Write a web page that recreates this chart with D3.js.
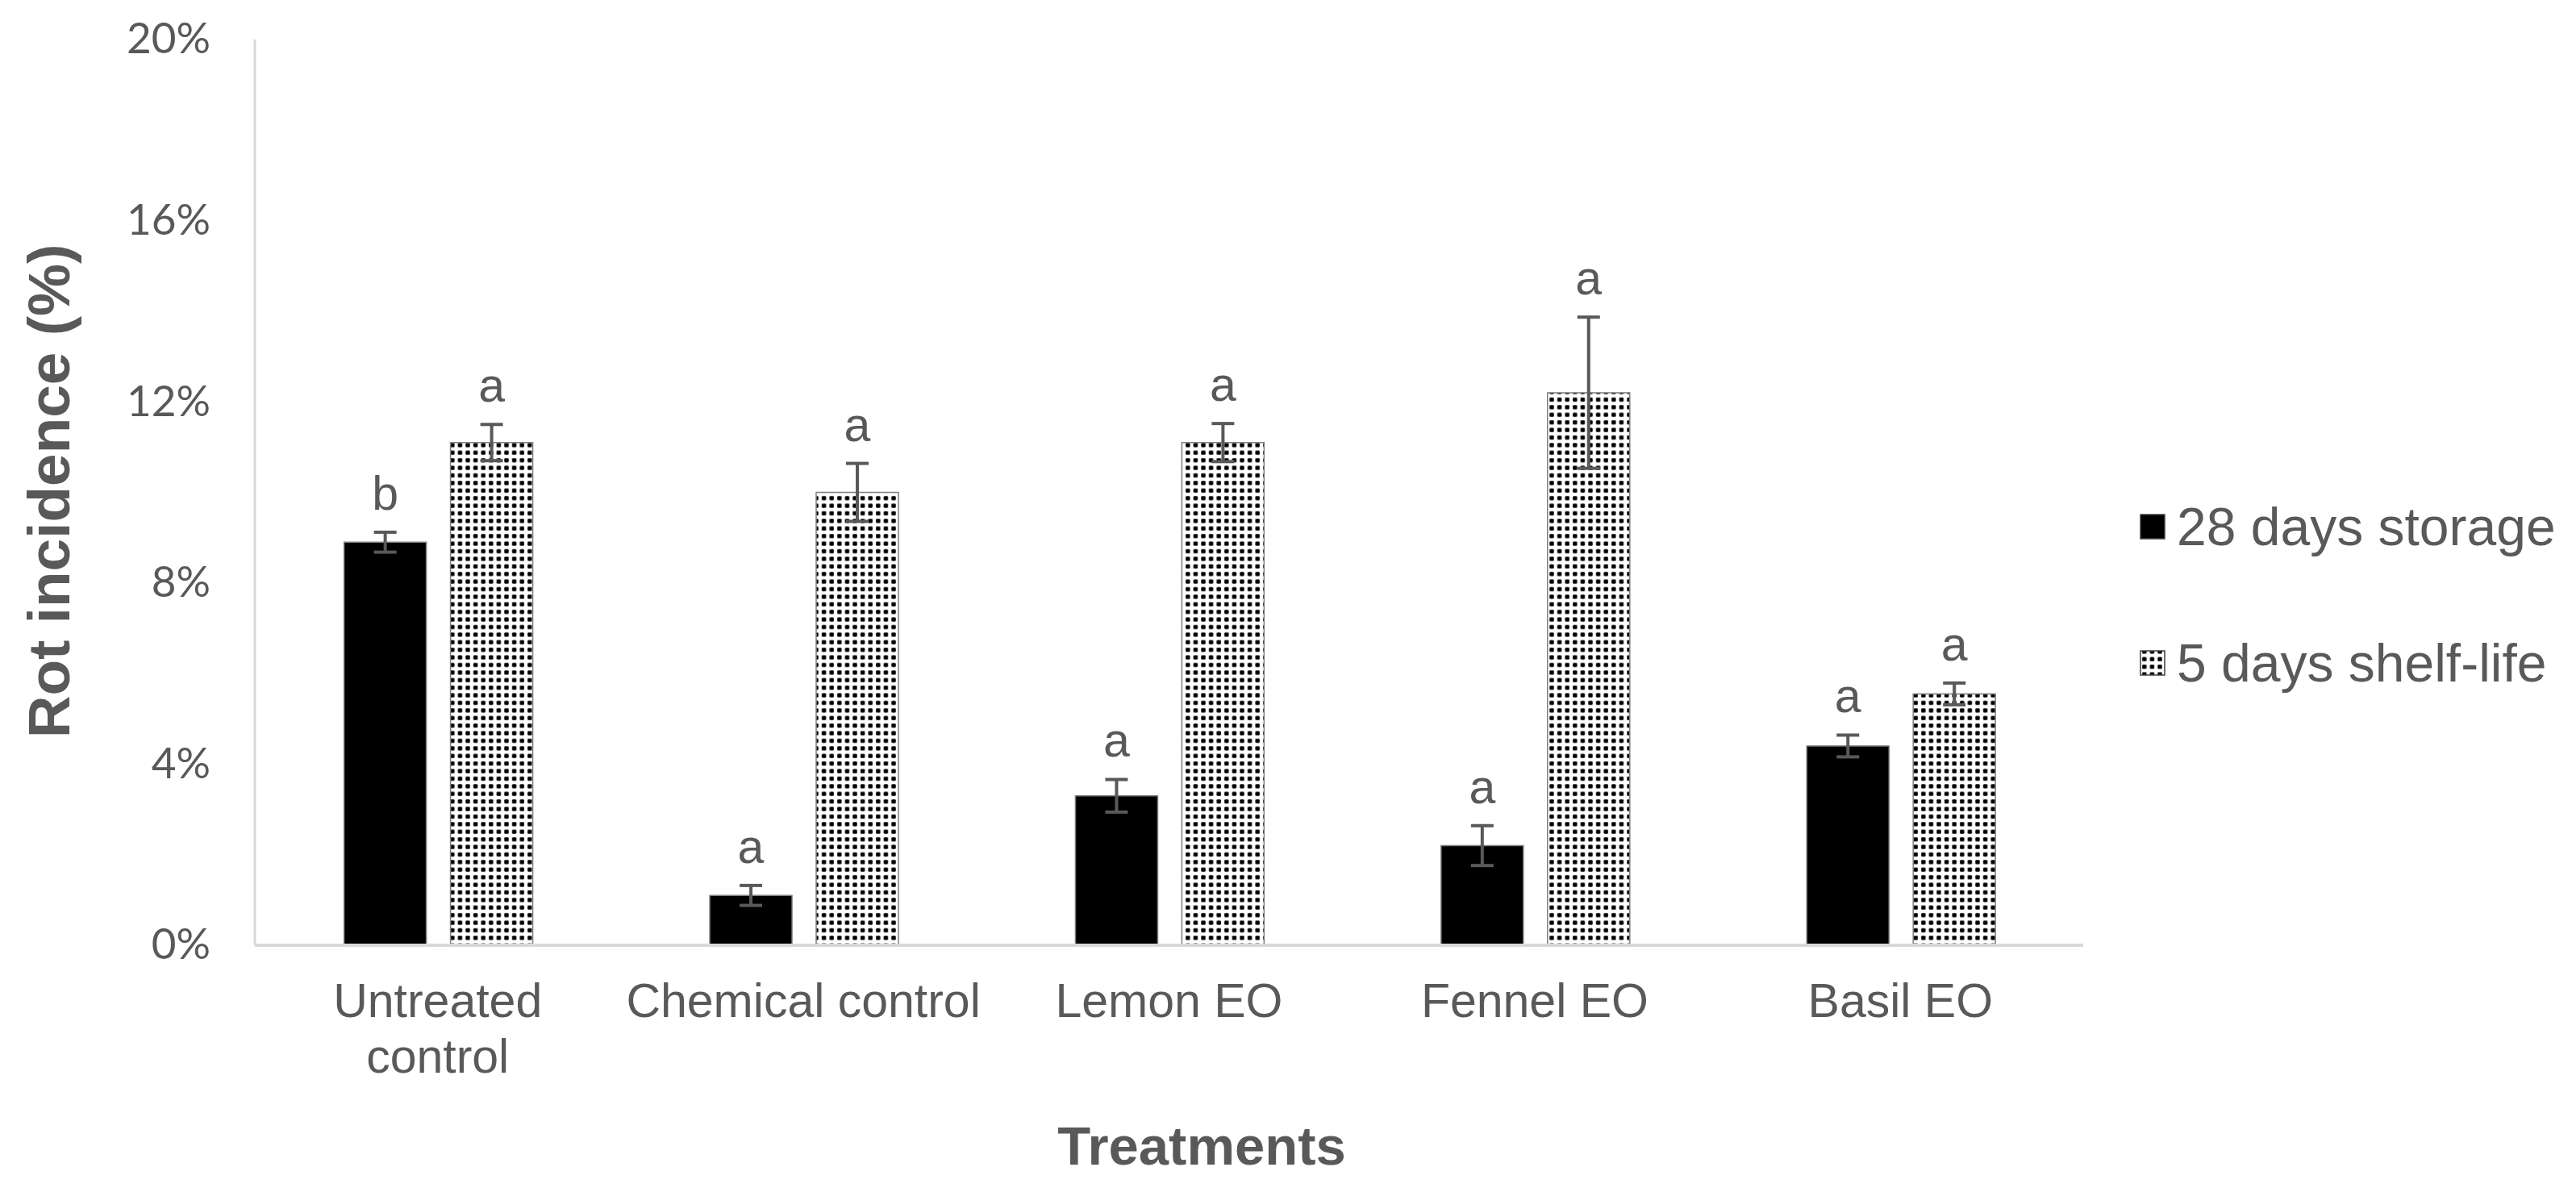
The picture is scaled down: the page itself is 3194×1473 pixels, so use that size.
<!DOCTYPE html>
<html>
<head>
<meta charset="utf-8">
<script src="https://cdn.jsdelivr.net/npm/d3@7"></script>
<style>
  html, body { margin: 0; padding: 0; background: #fff; }
  svg { display: block; }
</style>
</head>
<body>
<svg width="3194" height="1473"></svg>
<script>
// values (percent)
var categories = ["Untreated control", "Chemical control", "Lemon EO", "Fennel EO", "Basil EO"];
var categoryLabels = [["Untreated", "control"], ["Chemical control"], ["Lemon EO"], ["Fennel EO"], ["Basil EO"]];
var series = ["28 days storage", "5 days shelf-life"];
var storage = [8.9, 1.1, 3.3, 2.2, 4.4];
var storageErr = [0.22, 0.22, 0.36, 0.44, 0.24];
var storageLetters = ["b", "a", "a", "a", "a"];
var shelfLife = [11.1, 10.0, 11.1, 12.2, 5.55];
var shelfLifeErr = [0.4, 0.64, 0.42, 1.67, 0.24];
var shelfLifeLetters = ["a", "a", "a", "a", "a"];
var yTicks = [0, 4, 8, 12, 16, 20];

var svg = d3.select("svg"),
    margin = {top: 49, right: 611, bottom: 301, left: 316},
    width = +svg.attr("width") - margin.left - margin.right,
    height = +svg.attr("height") - margin.top - margin.bottom,
    g = svg.append("g").attr("transform", "translate(" + margin.left + "," + margin.top + ")");

var grey = "#595959",
    sans = "'Liberation Sans', Arial, sans-serif";

// dotted fill used by the shelf-life bars
var defs = svg.append("defs");
var pat = defs.append("pattern")
    .attr("id", "dots")
    .attr("patternUnits", "userSpaceOnUse")
    .attr("width", 9.6)
    .attr("height", 9.4);
pat.append("rect").attr("width", 9.6).attr("height", 9.4).attr("fill", "#fff");
pat.append("rect")
    .attr("x", 2.1).attr("y", 2.0)
    .attr("width", 5.4).attr("height", 5.4)
    .attr("rx", 1.4)
    .attr("fill", "#000");

var x = d3.scaleBand()
    .domain(categories)
    .range([0, width]);

var xSub = d3.scaleBand()
    .domain(series)
    .range([x.bandwidth() * 0.244, x.bandwidth() * 0.760])
    .paddingInner(0.227);

var y = d3.scaleLinear()
    .domain([0, 20])
    .range([height, 0]);

var data = [];
categories.forEach(function(c, i) {
  data.push({cat: c, s: series[0], v: storage[i], e: storageErr[i], l: storageLetters[i]});
  data.push({cat: c, s: series[1], v: shelfLife[i], e: shelfLifeErr[i], l: shelfLifeLetters[i]});
});

function fillFor(s) { return s == series[0] ? "#000" : "url(#dots)"; }

// y axis labels
var yAxis = g.append("g")
    .call(d3.axisLeft(y).tickValues(yTicks).tickSize(0).tickPadding(55)
      .tickFormat(function(d) { return d + "%"; }));
yAxis.select(".domain").remove();
yAxis.selectAll("text")
    .attr("fill", grey)
    .attr("font-family", "Lato, 'Open Sans', sans-serif")
    .attr("font-size", 53);

// axis lines
g.append("line")
    .attr("x1", 0).attr("x2", 0)
    .attr("y1", 0).attr("y2", height)
    .attr("stroke", "#d9d9d9").attr("stroke-width", 3);

// bars
g.selectAll(".bar")
    .data(data)
  .enter().append("rect")
    .attr("class", "bar")
    .attr("x", function(d) { return x(d.cat) + xSub(d.s); })
    .attr("y", function(d) { return y(d.v); })
    .attr("width", xSub.bandwidth())
    .attr("height", function(d) { return height - y(d.v); })
    .attr("fill", function(d) { return fillFor(d.s); })
    .attr("stroke", "#7f7f7f")
    .attr("stroke-width", 1.5);

g.append("line")
    .attr("x1", 0).attr("x2", width)
    .attr("y1", height).attr("y2", height)
    .attr("stroke", "#d9d9d9").attr("stroke-width", 4);

// error bars
var err = g.selectAll(".err")
    .data(data)
  .enter().append("g")
    .attr("class", "err")
    .attr("stroke", grey)
    .attr("stroke-width", 4)
    .attr("transform", function(d) {
      return "translate(" + (x(d.cat) + xSub(d.s) + xSub.bandwidth() / 2) + ",0)";
    });
err.append("line")
    .attr("y1", function(d) { return y(d.v + d.e); })
    .attr("y2", function(d) { return y(d.v - d.e); });
err.append("line")
    .attr("x1", -14).attr("x2", 14)
    .attr("y1", function(d) { return y(d.v + d.e); })
    .attr("y2", function(d) { return y(d.v + d.e); });
err.append("line")
    .attr("x1", -14).attr("x2", 14)
    .attr("y1", function(d) { return y(d.v - d.e); })
    .attr("y2", function(d) { return y(d.v - d.e); });

// significance letters
g.selectAll(".letter")
    .data(data)
  .enter().append("text")
    .attr("class", "letter")
    .attr("x", function(d) { return x(d.cat) + xSub(d.s) + xSub.bandwidth() / 2; })
    .attr("y", function(d) { return y(d.v + d.e) - 28; })
    .attr("text-anchor", "middle")
    .attr("font-family", sans)
    .attr("font-size", 59)
    .attr("fill", grey)
    .text(function(d) { return d.l; });

// category labels
var xl = g.selectAll(".xlab")
    .data(categories)
  .enter().append("text")
    .attr("class", "xlab")
    .attr("x", function(d) { return x(d) + x.bandwidth() / 2; })
    .attr("y", height + 89)
    .attr("text-anchor", "middle")
    .attr("font-family", sans)
    .attr("font-size", 59)
    .attr("fill", grey);
xl.selectAll("tspan")
    .data(function(d, i) { return categoryLabels[i]; })
  .enter().append("tspan")
    .attr("x", function() { return d3.select(this.parentNode).attr("x"); })
    .attr("dy", function(d, i) { return i ? 69 : 0; })
    .text(function(d) { return d; });

// axis titles
svg.append("text")
    .attr("x", 1490)
    .attr("y", 1444)
    .attr("text-anchor", "middle")
    .attr("font-family", sans)
    .attr("font-weight", "bold")
    .attr("font-size", 67)
    .attr("fill", grey)
    .text("Treatments");

svg.append("text")
    .attr("transform", "translate(86,609) rotate(-90)")
    .attr("text-anchor", "middle")
    .attr("font-family", sans)
    .attr("font-weight", "bold")
    .attr("font-size", 73)
    .attr("fill", grey)
    .text("Rot incidence (%)");

// legend
var legend = svg.selectAll(".legend")
    .data(series)
  .enter().append("g")
    .attr("class", "legend")
    .attr("transform", function(d, i) { return "translate(2654," + (653 + i * 169) + ")"; });
legend.append("rect")
    .attr("x", 0).attr("y", -15)
    .attr("width", 30).attr("height", 30)
    .attr("fill", function(d) { return fillFor(d); })
    .attr("stroke", "#404040")
    .attr("stroke-width", 1.5);
legend.append("text")
    .attr("x", 45)
    .attr("y", 0)
    .attr("dy", "0.35em")
    .attr("font-family", sans)
    .attr("font-size", 66)
    .attr("fill", grey)
    .text(function(d) { return d; });
</script>
</body>
</html>
